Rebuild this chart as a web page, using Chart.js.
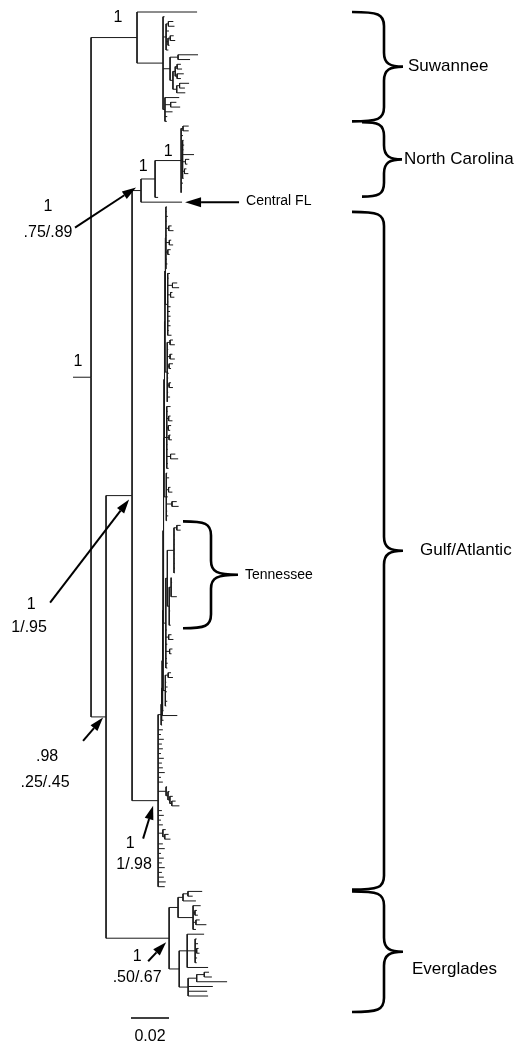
<!DOCTYPE html>
<html>
<head>
<meta charset="utf-8">
<script src="https://cdn.jsdelivr.net/npm/chart.js@4.4.1/dist/chart.umd.min.js"></script>
<style>
  html, body { margin: 0; padding: 0; background: #fff; }
  canvas { display: block; }
</style>
</head>
<body>
<canvas id="tree" width="532" height="1047"></canvas>
<script>
// branch lengths are in units of 0.001 substitutions/site (scale bar = 0.02)
var suwannee = "(:0.8,((:2.6,:3.2):1.2,:1.5,((:1.8,:2.6):1.2,:0.8):1.0,:1.2):1.6,((:10.5,:6.3):4.2,(((:2.0,:2.6):1.0,(:3.5,:2.0):1.0):1.2,((:5.0,:2.8):1.5,:4.5):2.0):1.5):3.7,(:7.5,(:3.0,:5.0):3.0,:4.0,:1.2,:1.0):1.0)";
var northCarolina = "((:3.0,:3.0):1.0,:1.0,(:0.5,:0.8,:0.5,:6.0,(:2.0,:1.0):1.5,(:1.0,:2.0):1.0,:0.5):0.8,:1.0,:0.5,:0.3)";
var tennessee = "(((:2.0,:2.0):1.5,:0.3,:0.3,:0.2,:0.3,:0.3,:0.2,:0.3,:0.5,:0.3):3.5,((:0.3,:0.5,:0.3,:0.4,:3.0):1.0,:0.3,:0.3,:0.5,:0.3,:0.2,:0.8):1.0)";
var everglades = "((((:7.5,:2.5):2.6,:6.8):2.6,(:4.0,(:1.0,:1.5):1.0,(:2.0,:5.5):1.5,:1.5):7.9):4.7,((:8.9,(:0.8,:1.5,(:1.0,:1.5):0.8,:1.0,:0.8):4.2,:11.0):4.2,(((:2.5,:4.0):4.0,:16.0):4.5,:13.0,:10.0,:10.5):4.7):5.3)";

// Gulf/Atlantic: a ladder of small groups along one spine, top to bottom
var gulfBlocks = [
  ":0.5,:0.3,:1.0,:0.4,(:1.5,:2.5):1.5,:0.3,(:1.0,:2.0):1.8,(:1.5,:1.0):1.0,:0.5,:0.8,:0.3",
  ":1.2,:0.4,(:2.5,:3.5):2.5,(:1.0,:2.0):1.5,:0.3,:1.5,:1.2,:1.5,:1.2,:1.5,:0.5,:2.0",
  "(:1.5,:2.5):1.5,:0.5,(:1.2,:2.5):1.5,(:2.0,:1.0):1.0,:0.8,:0.5,(:1.0,:2.0):1.0,:0.5,:1.5,:0.3",
  ":2.0,:0.5,(:1.0,:2.0):1.0,(:1.5,:1.0):0.8,(:0.8,:1.5):1.2,:0.3,:0.5,(:2.5,:4.0):2.0,:0.5,:1.0",
  ":0.5,:1.5,:0.3,(:1.0,:2.0):1.2,:0.8,(:2.5,:3.5):3.0,:0.5,:1.0,:0.4",
  tennessee + "tn:0.8,:0.5,(:1.5,:2.5):1.5,:0.8,(:1.5,:1.0):2.0,:0.5,:1.0,:0.8",
  "(:1.5,:2.5):1.5,:0.5,:1.2,:0.8,:0.3,:1.0,:0.5"
];
var gulfTail = [0.5, 8.0, 1.0, 0.5];
var spineStep = 0.25;
var blockStem = 1.2;
var gulfLower = ":2.5,:1.5,:3.0,:2.0,:2.5,:1.5,:3.0,:2.0,:2.5,:3.5,:1.5,:2.5,(:0.5,(:0.8,(:1.5,(:2.0,:4.0):1.0):1.0):1.0):4.2,:2.0,:3.0,:1.5,:2.5,(:1.5,(:2.0,:3.0):1.0):2.5,:2.5,:3.5,:1.5,:3.0,:2.0,:3.5,:2.0,:3.0,:4.0,:3.5";

var supportLabels = [["root", "1"], ["suw", "1"], ["nc", "1"], ["n1", "1"]];
var arrowLabels = [["nccf", "1", ".75/.89"], ["b", "1", "1/.95"], ["a", ".98", ".25/.45"], ["gulf", "1", "1/.98"], ["evg", "1", ".50/.67"]];
var clades = [["suw", "Suwannee"], ["nc", "North Carolina"], ["gulf", "Gulf/Atlantic"], ["evg", "Everglades"], ["tn", "Tennessee"]];
var scaleBar = 20; // 0.02

var upper = "(" + gulfBlocks[0] + ")";
for (var k = 1; k < gulfBlocks.length; k++) {
  upper = "(" + upper + ":" + spineStep + ",(" + gulfBlocks[k] + "):" + blockStem + ")";
}
gulfTail.forEach(function (t) { upper = "(" + upper + ":" + spineStep + ",:" + t + ")"; });
var gulf = "(" + upper + ":1.6," + gulfLower + ")";

var tree = "((:31.6," + suwannee + ":13.7)suw:24.2,((((" + northCarolina + "nc:13.7,:1.6)n1:7.4,cfl:21.6)nccf:4.7," +
  gulf + "gulf:13.7)b:13.7," + everglades + "evg:33.2)a:7.9)root:9.5";

function parse(s) {
  var i = 0;
  function node() {
    var n = { kids: [], name: "", len: 0 };
    if (s[i] === "(") {
      i++;
      n.kids.push(node());
      while (s[i] === ",") { i++; n.kids.push(node()); }
      i++;
    }
    while (i < s.length && ":,);".indexOf(s[i]) < 0) n.name += s[i++];
    if (s[i] === ":") {
      i++;
      var num = "";
      while (i < s.length && ",);".indexOf(s[i]) < 0) num += s[i++];
      n.len = parseFloat(num);
    }
    return n;
  }
  return node();
}

var root = parse(tree.replace(/\s/g, ""));
var tips = 0, byName = {};
(function lay(n, px) {
  n.px = px;
  n.x = px + n.len;
  if (n.name) byName[n.name] = n;
  if (!n.kids.length) { n.y = tips++; n.lo = n.hi = n.y; return; }
  n.kids.forEach(function (c) { lay(c, n.x); });
  var f = n.kids[0], l = n.kids[n.kids.length - 1];
  n.y = (f.y + l.y) / 2;
  n.lo = f.lo; n.hi = l.hi;
})(root, 0);

var pts = [];
(function seg(n) {
  pts.push({ x: n.px, y: n.y }, { x: n.x, y: n.y }, { x: null, y: null });
  if (n.kids.length) {
    pts.push({ x: n.x, y: n.kids[0].y }, { x: n.x, y: n.kids[n.kids.length - 1].y }, { x: null, y: null });
    n.kids.forEach(seg);
  }
})(root);

var tipStep = 984 / (tips - 1);
var font = function (s) { return s + 'px "Liberation Sans", Arial, sans-serif'; };

function arrow(c, x1, y1, x2, y2, len, half) {
  var a = Math.atan2(y2 - y1, x2 - x1);
  var bx = x2 - Math.cos(a) * len, by = y2 - Math.sin(a) * len;
  c.lineWidth = 2;
  c.beginPath(); c.moveTo(x1, y1); c.lineTo(bx, by); c.stroke();
  c.beginPath();
  c.moveTo(x2, y2);
  c.lineTo(bx + Math.sin(a) * half, by - Math.cos(a) * half);
  c.lineTo(bx - Math.sin(a) * half, by + Math.cos(a) * half);
  c.closePath(); c.fill();
}

function brace(c, xl, xs, xp, top, bot, mid) {
  var r = Math.min(14, (bot - top) / 5);
  c.lineWidth = 2.6;
  c.beginPath();
  c.moveTo(xl, top);
  c.bezierCurveTo(xs - 6, top, xs, top + 2, xs, top + r);
  c.lineTo(xs, mid - r);
  c.bezierCurveTo(xs, mid - 3, xs + 6, mid, xp, mid);
  c.bezierCurveTo(xs + 6, mid, xs, mid + 3, xs, mid + r);
  c.lineTo(xs, bot - r);
  c.bezierCurveTo(xs, bot - 2, xs - 6, bot, xl, bot);
  c.stroke();
}

// offsets from the node, in pixels
var supportPos = { root: [-13, -16], suw: [-19, -20], nc: [-13, -9], n1: [-12, -12] };
var arrowPos = {
  nccf: { head: [-5, -3], tail: [-66, 37], l1: [-93, 16], l2: [-93, 42] },
  b: { head: [-3, 4], tail: [-82, 107], l1: [-101, 109], l2: [-103, 132] },
  a: { head: [-3, 0.5], tail: [-23, 24], l1: [-59, 40], l2: [-61, 66] },
  gulf: { head: [-5, 5], tail: [-15, 38], l1: [-28, 43], l2: [-24, 64] },
  evg: { head: [-3, 4], tail: [-21, 23], l1: [-32, 18], l2: [-32, 39] }
};
var braceStyle = {
  suw: { xl: 352, xs: 384, xp: 403, tx: 408, pad: [0, 0], dy: 0, size: 17 },
  nc: { xl: 362, xs: 384, xp: 402, tx: 404, pad: [4, 4], dy: 0, size: 17 },
  gulf: { xl: 352, xs: 384, xp: 403, tx: 420, pad: [-5, 3], dy: 0, size: 17 },
  evg: { xl: 352, xs: 384, xp: 403, tx: 412, pad: [0, 16], dy: 18, size: 17 },
  tn: { xl: 183, xs: 211, xp: 238, tx: 245, pad: [4, 3], dy: 0, size: 14 }
};

var deco = {
  id: "deco",
  afterDraw: function (chart) {
    var c = chart.ctx, X = chart.scales.x, Y = chart.scales.y;
    var P = function (n) { return [X.getPixelForValue(n.x), Y.getPixelForValue(n.y)]; };
    c.save();
    c.fillStyle = "#000"; c.strokeStyle = "#000";
    c.textAlign = "center"; c.textBaseline = "middle";
    c.font = font(16);
    supportLabels.forEach(function (s) {
      var p = P(byName[s[0]]), o = supportPos[s[0]];
      c.fillText(s[1], p[0] + o[0], p[1] + o[1]);
    });
    arrowLabels.forEach(function (s) {
      var p = P(byName[s[0]]), o = arrowPos[s[0]];
      arrow(c, p[0] + o.tail[0], p[1] + o.tail[1], p[0] + o.head[0], p[1] + o.head[1], 14, 4.5);
      c.fillText(s[1], p[0] + o.l1[0], p[1] + o.l1[1]);
      c.fillText(s[2], p[0] + o.l2[0], p[1] + o.l2[1]);
    });
    // Central FL pointer
    var cf = P(byName.cfl);
    arrow(c, cf[0] + 57, cf[1], cf[0] + 3, cf[1], 16, 5);
    c.textAlign = "left";
    c.font = font(14);
    c.fillText("Central FL", cf[0] + 64, cf[1] - 1);
    // clade braces
    clades.forEach(function (cl) {
      var n = byName[cl[0]], st = braceStyle[cl[0]];
      var top = Y.getPixelForValue(n.lo) - st.pad[0], bot = Y.getPixelForValue(n.hi) + st.pad[1];
      var mid = (top + bot) / 2;
      brace(c, st.xl, st.xs, st.xp, top, bot, mid);
      c.font = font(st.size);
      c.fillText(cl[1], st.tx, mid + st.dy);
    });
    // scale bar
    var x0 = 131, w = X.getPixelForValue(scaleBar) - X.getPixelForValue(0);
    c.lineWidth = 1.5;
    c.beginPath(); c.moveTo(x0, 1018); c.lineTo(x0 + w, 1018); c.stroke();
    c.textAlign = "center";
    c.font = font(16);
    c.fillText((scaleBar / 1000).toFixed(2), x0 + w / 2, 1037);
    c.restore();
  }
};

new Chart(document.getElementById("tree"), {
  type: "scatter",
  data: {
    datasets: [{
      label: "tree",
      data: pts,
      showLine: true,
      spanGaps: false,
      borderColor: "#1a1a1a",
      borderWidth: 1,
      pointRadius: 0,
      pointHoverRadius: 0
    }]
  },
  options: {
    responsive: false,
    animation: false,
    devicePixelRatio: 1,
    layout: { padding: 0 },
    events: [],
    plugins: { legend: { display: false }, tooltip: { enabled: false } },
    scales: {
      x: { type: "linear", display: false, min: -73 / 1.9, max: 459 / 1.9 },
      y: { type: "linear", display: false, reverse: true, min: -12 / tipStep, max: 1035 / tipStep }
    }
  },
  plugins: [deco]
});
</script>
</body>
</html>
